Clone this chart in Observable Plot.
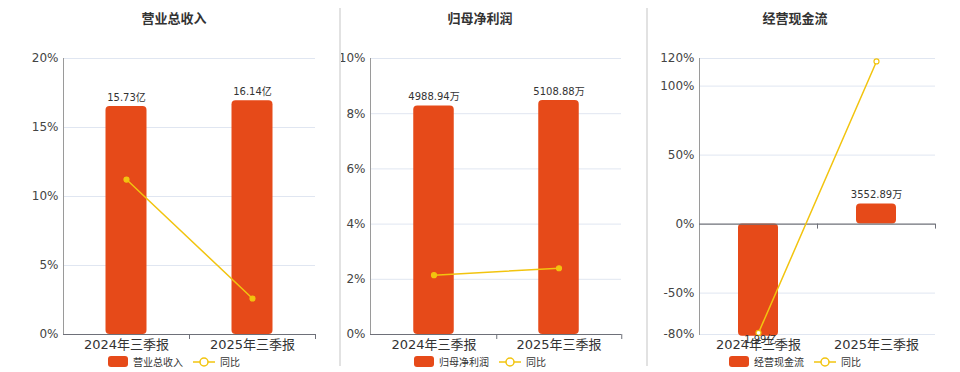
<!DOCTYPE html>
<html>
<head>
<meta charset="utf-8">
<script src="https://cdn.jsdelivr.net/npm/d3@7"></script>
<script src="https://cdn.jsdelivr.net/npm/@observablehq/plot@0.6"></script>
<style>
  html, body { margin: 0; padding: 0; background: #fff; }
  #root { position: relative; width: 960px; height: 372px; overflow: hidden;
          font-family: "DejaVu Sans", "Noto Sans CJK SC", sans-serif; }
  .title { position: absolute; top: 8px; width: 200px; text-align: center;
           font-weight: bold; font-size: 13px; color: #333; font-family: "Noto Sans CJK SC", sans-serif; }
  .legend { position: absolute; top: 354px; width: 240px; display: flex; justify-content: center;
            align-items: center; font-size: 10px; color: #333; font-family: "Noto Sans CJK SC", sans-serif; }
  .sw { width: 20px; height: 11px; border-radius: 3px; margin-right: 5px; }
  .sep { position: absolute; top: 8px; height: 358px; width: 2px; background: #e2e2e2; }
  .plot { position: absolute; top: 40px; }
</style>
</head>
<body>
<div id="root"></div>
<script>
// ---- data ----
const categories = ["2024年三季报", "2025年三季报"];

const revenueValues = [15.73, 16.14];           // 亿
const revenueLabels = ["15.73亿", "16.14亿"];
const revenueYoY = [11.23, 2.61];                // %
const revenueTicks = [0, 5, 10, 15, 20];
const revenueBarDomain = [0, 19.05];

const profitValues = [4988.94, 5108.88];         // 万
const profitLabels = ["4988.94万", "5108.88万"];
const profitYoY = [2.15, 2.40];
const profitTicks = [0, 2, 4, 6, 8, 10];
const profitBarDomain = [0, 6028];

const cashValues = [-19900, 3552.89];            // 万
const cashLabels = ["-1.99亿", "3552.89万"];
const cashYoY = [-78.8, 117.85];
const cashTicks = [-80, -50, 0, 50, 100, 120];
const cashBarDomain = [-19600, 29400];

const BAR = "#E64A19";
const LINE = "#F2C40F";
const FONT = "'DejaVu Sans', 'Noto Sans CJK SC', sans-serif";

const root = document.getElementById("root");

function panel(cfg) {
  const data = categories.map((c, i) => ({cat: c, value: cfg.values[i], label: cfg.labels[i], yoy: cfg.yoy[i]}));
  const yDomain = [cfg.ticks[0], cfg.ticks[cfg.ticks.length - 1]];
  const toPct = d3.scaleLinear().domain(cfg.barDomain).range(yDomain);
  const plotH = 276;
  const innerW = cfg.width - cfg.ml - cfg.mr;
  const band = innerW / categories.length;
  const inset = (band - cfg.barW) / 2;
  const zeroDy = -(0 - yDomain[0]) / (yDomain[1] - yDomain[0]) * plotH;

  const chart = Plot.plot({
    width: cfg.width, height: 314,
    marginLeft: cfg.ml, marginRight: cfg.mr, marginTop: 18, marginBottom: 20,
    style: {fontFamily: FONT, fontSize: "12px", color: "#444", background: "transparent", overflow: "visible"},
    x: {type: "band", domain: categories, padding: 0, label: null},
    y: {domain: yDomain, label: null},
    marks: [
      Plot.gridY(cfg.ticks.filter(t => t !== 0), {stroke: "#E0E6F1", strokeOpacity: 1}),
      Plot.frame({anchor: "left", stroke: "#9a9a9a"}),
      Plot.axisY(cfg.ticks, {tickSize: 0, tickPadding: 5, tickFormat: d => d + "%", fontSize: 12, color: "#444"}),
      Plot.barY(data, {x: "cat", y1: 0, y2: d => toPct(d.value), fill: BAR, rx: 4, insetLeft: inset, insetRight: inset}),
      Plot.ruleY([0], {stroke: "#6E7079", strokeWidth: 1.2}),
      Plot.axisX({tickSize: 0, tickPadding: 5, fontSize: 13, color: "#333"}),
      Plot.axisX({tickSize: 5, tickFormat: () => "", dx: band / 2, dy: zeroDy, stroke: "#6E7079"}),
      Plot.line(data, {x: "cat", y: "yoy", stroke: LINE, strokeWidth: 1.5}),
      Plot.dot(data, {x: "cat", y: "yoy", r: 2.5, fill: cfg.hollow ? "#fff" : LINE, stroke: LINE, strokeWidth: 1.2}),
      Plot.text(data.filter(d => d.value >= 0), {x: "cat", y: d => toPct(d.value), text: "label", dy: -9, fontSize: 10, fill: "#333"}),
      Plot.text(data.filter(d => d.value < 0), {x: "cat", y: d => toPct(d.value), text: "label", dy: 4, fontSize: 10, fill: "#333"})
    ]
  });
  chart.classList.add("plot");
  chart.style.left = cfg.left + "px";
  root.appendChild(chart);

  const t = document.createElement("div");
  t.className = "title";
  t.style.left = (cfg.center - 100) + "px";
  t.textContent = cfg.title;
  root.appendChild(t);

  const lg = document.createElement("div");
  lg.className = "legend";
  lg.style.left = (cfg.center - 120) + "px";
  lg.innerHTML =
    `<div class="sw" style="background:${BAR}"></div><span>${cfg.title}</span>` +
    `<svg width="22" height="12" style="margin:0 5px 0 10px"><line x1="0" y1="6" x2="22" y2="6" stroke="${LINE}" stroke-width="1.5"/><circle cx="11" cy="6" r="4" fill="#fff" stroke="${LINE}" stroke-width="1.5"/></svg><span>同比</span>`;
  root.appendChild(lg);
}

panel({title: "营业总收入", values: revenueValues, labels: revenueLabels, yoy: revenueYoY, ticks: revenueTicks,
       barDomain: revenueBarDomain, left: 0, width: 330, ml: 63, mr: 15, barW: 41, center: 174});
panel({title: "归母净利润", values: profitValues, labels: profitLabels, yoy: profitYoY, ticks: profitTicks,
       barDomain: profitBarDomain, left: 339, width: 300, ml: 31, mr: 18, barW: 41, center: 480});
panel({title: "经营现金流", values: cashValues, labels: cashLabels, yoy: cashYoY, ticks: cashTicks,
       barDomain: cashBarDomain, left: 646, width: 300, ml: 53, mr: 11, barW: 40, center: 795, hollow: true});

["339px", "646px"].forEach(x => {
  const s = document.createElement("div");
  s.className = "sep"; s.style.left = x; root.appendChild(s);
});
</script>
</body>
</html>
